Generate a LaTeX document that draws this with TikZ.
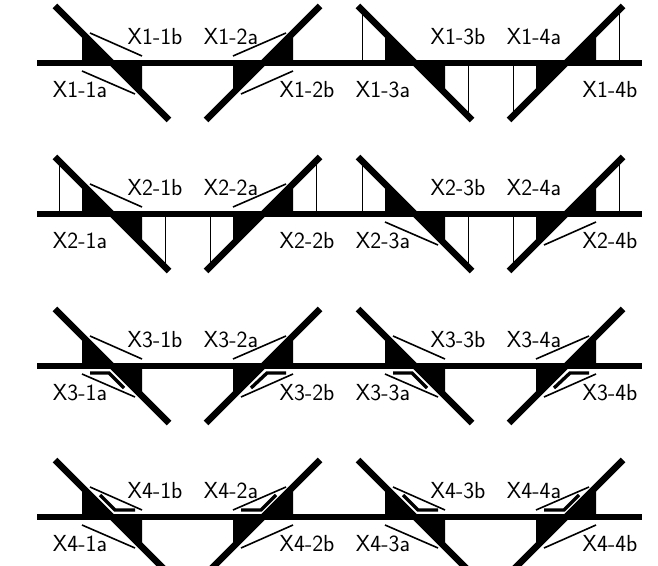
\documentclass[tikz,border=0pt]{standalone}
\tikzset{
  xbar/.style={line width=5.5pt},
  xdiag/.style={line width=6.5pt},
  slash/.style={line width=1.6pt},
  tick/.style={line width=0.9pt},
  lab/.style={inner sep=0pt,font=\fontsize{23.2}{26}\selectfont\sffamily},
  inner/.style={line width=3.4pt,line join=miter}
}
% #1 x position, #2 row, #3 left label col, #4 extras
\newcommand{\cellL}[4]{%
  \begin{scope}[xshift=#1pt]
  \draw[xdiag] (-57,57) -- (57,-57);
  \fill (0,0) -- (-30,0) -- (-30,30) -- cycle;
  \fill (0,0) -- (30,0) -- (30,-30) -- cycle;
  #4
  \node[lab] (a#2#3) at (-32,-27) {X#2-#3a};
  \node[lab] (b#2#3) at (43,26) {X#2-#3b};
  \end{scope}}
\newcommand{\cellR}[4]{%
  \begin{scope}[xshift=#1pt]
  \draw[xdiag] (57,57) -- (-57,-57);
  \fill (0,0) -- (30,0) -- (30,30) -- cycle;
  \fill (0,0) -- (-30,0) -- (-30,-30) -- cycle;
  #4
  \node[lab] (a#2#3) at (-32,26) {X#2-#3a};
  \node[lab] (b#2#3) at (44,-27) {X#2-#3b};
  \end{scope}}
\newcommand{\tickL}{\draw[tick] (-53,53) -- (-53,0); \draw[tick] (53,-53) -- (53,0);}
\newcommand{\tickR}{\draw[tick] (53,53) -- (53,0); \draw[tick] (-53,-53) -- (-53,0);}
\newcommand{\upL}{\draw[slash] (-22,30) -- (30,7);}
\newcommand{\loL}{\draw[slash] (-30,-8) -- (23,-31);}
\newcommand{\upR}{\draw[slash] (23,30) -- (-30,7);}
\newcommand{\loR}{\draw[slash] (30,-8) -- (-22,-31);}
\newcommand{\polyThreeL}{\draw[inner] (-22,-7) -- (-3,-7) -- (12,-22);}
\newcommand{\polyThreeR}{\draw[inner] (23,-7) -- (4,-7) -- (-12,-22);}
\newcommand{\polyFourL}{\draw[inner] (-12,22) -- (3,7) -- (23,7);}
\newcommand{\polyFourR}{\draw[inner] (13,22) -- (-2,7) -- (-22,7);}
\begin{document}
\begin{tikzpicture}[x=1pt,y=1pt]
\useasboundingbox (0,0) rectangle (658,565);
\clip (0,0) rectangle (658,565);
% row 1
\begin{scope}[yshift=502pt]
  \draw[xbar] (37,0) -- (642,0);
  \cellL{112}{1}{1}{\upL\loL}
  \cellR{263}{1}{2}{\upR\loR}
  \cellL{415}{1}{3}{\tickL}
  \cellR{566}{1}{4}{\tickR}
\end{scope}
% row 2
\begin{scope}[yshift=351pt]
  \draw[xbar] (37,0) -- (642,0);
  \cellL{112}{2}{1}{\tickL\upL}
  \cellR{263}{2}{2}{\tickR\upR}
  \cellL{415}{2}{3}{\tickL\loL}
  \cellR{566}{2}{4}{\tickR\loR}
\end{scope}
% row 3
\begin{scope}[yshift=199pt]
  \draw[xbar] (37,0) -- (642,0);
  \cellL{112}{3}{1}{\upL\loL\polyThreeL}
  \cellR{263}{3}{2}{\upR\loR\polyThreeR}
  \cellL{415}{3}{3}{\upL\loL\polyThreeL}
  \cellR{566}{3}{4}{\upR\loR\polyThreeR}
\end{scope}
% row 4
\begin{scope}[yshift=48pt]
  \draw[xbar] (37,0) -- (642,0);
  \cellL{112}{4}{1}{\upL\loL\polyFourL}
  \cellR{263}{4}{2}{\upR\loR\polyFourR}
  \cellL{415}{4}{3}{\upL\loL\polyFourL}
  \cellR{566}{4}{4}{\upR\loR\polyFourR}
\end{scope}
\end{tikzpicture}
\end{document}
